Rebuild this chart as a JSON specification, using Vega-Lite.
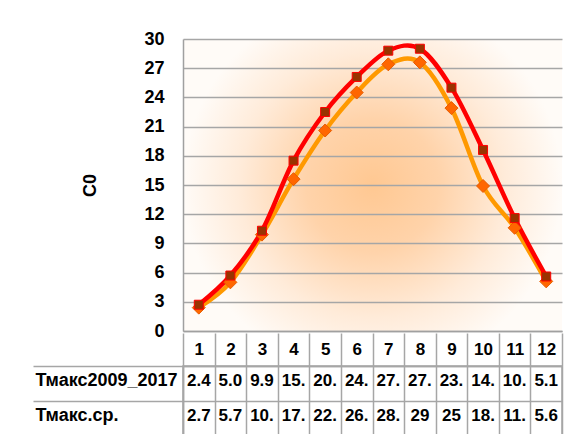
{
  "$schema": "https://vega.github.io/schema/vega-lite/v6.json",
  "padding": {"left": 31, "top": 30, "right": 0, "bottom": 0},
  "spacing": -9,
  "background": "white",
  "config": {
    "font": "Liberation Sans",
    "axis": {"labelFont": "Liberation Sans", "titleFont": "Liberation Sans", "labelColor": "black", "titleColor": "black"}
  },
  "data": {
    "values": [
      {"month": 1, "series": "Тмакс2009_2017", "value": 2.4, "label": "2.4"},
      {"month": 2, "series": "Тмакс2009_2017", "value": 5.0, "label": "5.0"},
      {"month": 3, "series": "Тмакс2009_2017", "value": 9.9, "label": "9.9"},
      {"month": 4, "series": "Тмакс2009_2017", "value": 15.6, "label": "15."},
      {"month": 5, "series": "Тмакс2009_2017", "value": 20.6, "label": "20."},
      {"month": 6, "series": "Тмакс2009_2017", "value": 24.5, "label": "24."},
      {"month": 7, "series": "Тмакс2009_2017", "value": 27.4, "label": "27."},
      {"month": 8, "series": "Тмакс2009_2017", "value": 27.6, "label": "27."},
      {"month": 9, "series": "Тмакс2009_2017", "value": 22.9, "label": "23."},
      {"month": 10, "series": "Тмакс2009_2017", "value": 14.9, "label": "14."},
      {"month": 11, "series": "Тмакс2009_2017", "value": 10.6, "label": "10."},
      {"month": 12, "series": "Тмакс2009_2017", "value": 5.1, "label": "5.1"},
      {"month": 1, "series": "Тмакс.ср.", "value": 2.7, "label": "2.7"},
      {"month": 2, "series": "Тмакс.ср.", "value": 5.7, "label": "5.7"},
      {"month": 3, "series": "Тмакс.ср.", "value": 10.3, "label": "10."},
      {"month": 4, "series": "Тмакс.ср.", "value": 17.5, "label": "17."},
      {"month": 5, "series": "Тмакс.ср.", "value": 22.5, "label": "22."},
      {"month": 6, "series": "Тмакс.ср.", "value": 26.1, "label": "26."},
      {"month": 7, "series": "Тмакс.ср.", "value": 28.8, "label": "28."},
      {"month": 8, "series": "Тмакс.ср.", "value": 29.0, "label": "29"},
      {"month": 9, "series": "Тмакс.ср.", "value": 25.0, "label": "25"},
      {"month": 10, "series": "Тмакс.ср.", "value": 18.6, "label": "18."},
      {"month": 11, "series": "Тмакс.ср.", "value": 11.6, "label": "11."},
      {"month": 12, "series": "Тмакс.ср.", "value": 5.6, "label": "5.6"}
    ]
  },
  "vconcat": [
    {
      "width": 379,
      "height": 292,
      "view": {
        "stroke": null,
        "fill": {
          "gradient": "radial",
          "x1": 0.5, "y1": 0.5, "r1": 0,
          "x2": 0.5, "y2": 0.5, "r2": 0.5,
          "stops": [
            {"offset": 0, "color": "#FFC892"},
            {"offset": 0.35, "color": "#FFD3AA"},
            {"offset": 0.7, "color": "#FFEBD9"},
            {"offset": 1, "color": "#FFFBF7"}
          ]
        }
      },
      "encoding": {
        "x": {
          "field": "month", "type": "ordinal",
          "scale": {"type": "point", "padding": 0.5},
          "axis": {"labels": false, "ticks": false, "title": null, "domain": true, "domainColor": "#A0A0A0", "domainWidth": 1.5, "grid": false}
        },
        "y": {
          "field": "value", "type": "quantitative",
          "scale": {"domain": [0, 30], "nice": false, "zero": true},
          "axis": {
            "values": [0, 3, 6, 9, 12, 15, 18, 21, 24, 27, 30],
            "title": "C0",
            "titleFontSize": 18, "titleFontWeight": "bold", "titlePadding": 44,
            "grid": true, "gridColor": "#A6A6A6", "gridWidth": 1.5,
            "ticks": false, "domainColor": "#A0A0A0", "domainWidth": 1.5,
            "labelFontSize": 18, "labelFontWeight": "bold", "labelPadding": 19
          }
        }
      },
      "layer": [
        {
          "mark": {"type": "line", "interpolate": "cardinal", "tension": 0, "strokeWidth": 4.5},
          "encoding": {
            "color": {
              "field": "series", "type": "nominal",
              "scale": {"domain": ["Тмакс2009_2017", "Тмакс.ср."], "range": ["#FF9900", "#FF0000"]},
              "legend": null
            }
          }
        },
        {
          "mark": {"type": "point", "opacity": 1, "strokeWidth": 1},
          "encoding": {
            "shape": {"field": "series", "type": "nominal", "scale": {"domain": ["Тмакс2009_2017", "Тмакс.ср."], "range": ["diamond", "square"]}, "legend": null},
            "fill": {"field": "series", "type": "nominal", "scale": {"domain": ["Тмакс2009_2017", "Тмакс.ср."], "range": ["#FF6600", "#993300"]}, "legend": null},
            "stroke": {"field": "series", "type": "nominal", "scale": {"domain": ["Тмакс2009_2017", "Тмакс.ср."], "range": ["#E65C00", "#FF0000"]}, "legend": null},
            "size": {"field": "series", "type": "nominal", "scale": {"domain": ["Тмакс2009_2017", "Тмакс.ср."], "range": [169, 81]}, "legend": null}
          }
        }
      ]
    },
    {
      "width": 379,
      "height": 70,
      "view": {"stroke": "#A6A6A6", "strokeWidth": 1.5},
      "mark": {"type": "text", "font": "Liberation Sans", "fontWeight": "bold", "fontSize": 17, "dy": -3, "color": "black"},
      "encoding": {
        "x": {
          "field": "month", "type": "ordinal",
          "scale": {"type": "band", "paddingInner": 0, "paddingOuter": 0},
          "axis": {
            "orient": "top", "title": null, "tickBand": "extent", "tickSize": 33,
            "tickColor": "#A6A6A6", "tickWidth": 1.5,
            "grid": true, "gridColor": "#A6A6A6", "gridWidth": 1.5,
            "domainColor": "#A6A6A6", "domainWidth": 1.5,
            "labelAngle": 0, "labelBaseline": "middle", "labelPadding": -16,
            "labelFontSize": 17, "labelFontWeight": "bold"
          }
        },
        "y": {
          "field": "series", "type": "nominal",
          "sort": ["Тмакс2009_2017", "Тмакс.ср."],
          "scale": {"type": "band", "paddingInner": 0, "paddingOuter": 0},
          "axis": {
            "title": null, "tickBand": "extent", "tickSize": 150,
            "tickColor": "#A6A6A6", "tickWidth": 1.5,
            "grid": true, "gridColor": "#A6A6A6", "gridWidth": 1.5,
            "domainColor": "#A6A6A6", "domainWidth": 1.5,
            "labelAlign": "left", "labelPadding": -2, "labelBaseline": "middle", "labelOffset": -3,
            "labelFontSize": 18, "labelFontWeight": "bold", "labelLimit": 0
          }
        },
        "text": {"field": "label"}
      }
    }
  ]
}
